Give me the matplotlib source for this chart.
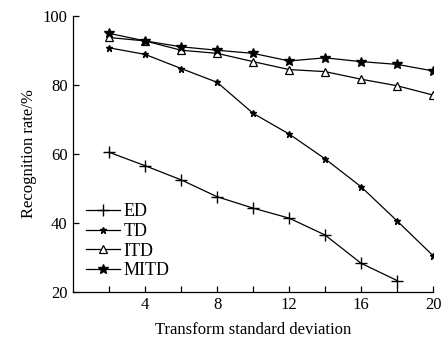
import matplotlib
matplotlib.use("Agg")
import matplotlib.pyplot as plt

plt.rcParams['font.family'] = ['Liberation Serif', 'DejaVu Serif']

# Data
x_ed = [2, 4, 6, 8, 10, 12, 14, 16, 18]
ed = [60.5, 56.6, 52.5, 47.6, 44.3, 41.4, 36.5, 28.3, 23.3]
x_all = [2, 4, 6, 8, 10, 12, 14, 16, 18, 20]
td = [90.8, 88.9, 84.8, 80.8, 71.8, 65.8, 58.6, 50.5, 40.6, 30.5]
itd = [93.8, 92.8, 90.1, 89.2, 86.8, 84.5, 83.9, 81.7, 79.8, 77.1]
mitd = [95.0, 92.8, 91.1, 90.1, 89.2, 87.0, 87.9, 86.8, 86.0, 84.1]

fig = plt.figure(figsize=(4.46, 3.43), dpi=100)
ax = fig.add_axes([0.164, 0.149, 0.807, 0.804])

lw = 0.9
ax.plot(x_ed, ed, color='black', lw=lw, marker='+', ms=9, mew=1.0, label='ED')
ax.plot(x_all, td, color='black', lw=lw, marker='*', ms=5, label='TD')
ax.plot(x_all, itd, color='black', lw=lw, marker='^', ms=6, mfc='white', mew=0.9, label='ITD')
ax.plot(x_all, mitd, color='black', lw=lw, marker='*', ms=7, label='MITD')

ax.set_xlim(0, 20)
ax.set_ylim(20, 100)
ax.set_xticks([4, 8, 12, 16, 20])
ax.set_xticks([2, 6, 10, 14, 18], minor=True)
ax.set_yticks([20, 40, 60, 80, 100])
ax.tick_params(direction='in', length=4, width=0.9, labelsize=12, pad=4)
ax.tick_params(which='minor', direction='in', length=4, width=0.9)
for s in ['top', 'right']:
    ax.spines[s].set_visible(False)
for s in ['left', 'bottom']:
    ax.spines[s].set_linewidth(0.9)

ax.set_xlabel('Transform standard deviation', fontsize=12, labelpad=6)
ax.set_ylabel('Recognition rate/%', fontsize=12, labelpad=4)

ax.legend(loc='lower left', bbox_to_anchor=(0.0, 0.0), frameon=False, fontsize=13,
          handlelength=1.9, handletextpad=0.2, labelspacing=0.15, borderaxespad=0.3)

fig.savefig('out.png', dpi=100)
